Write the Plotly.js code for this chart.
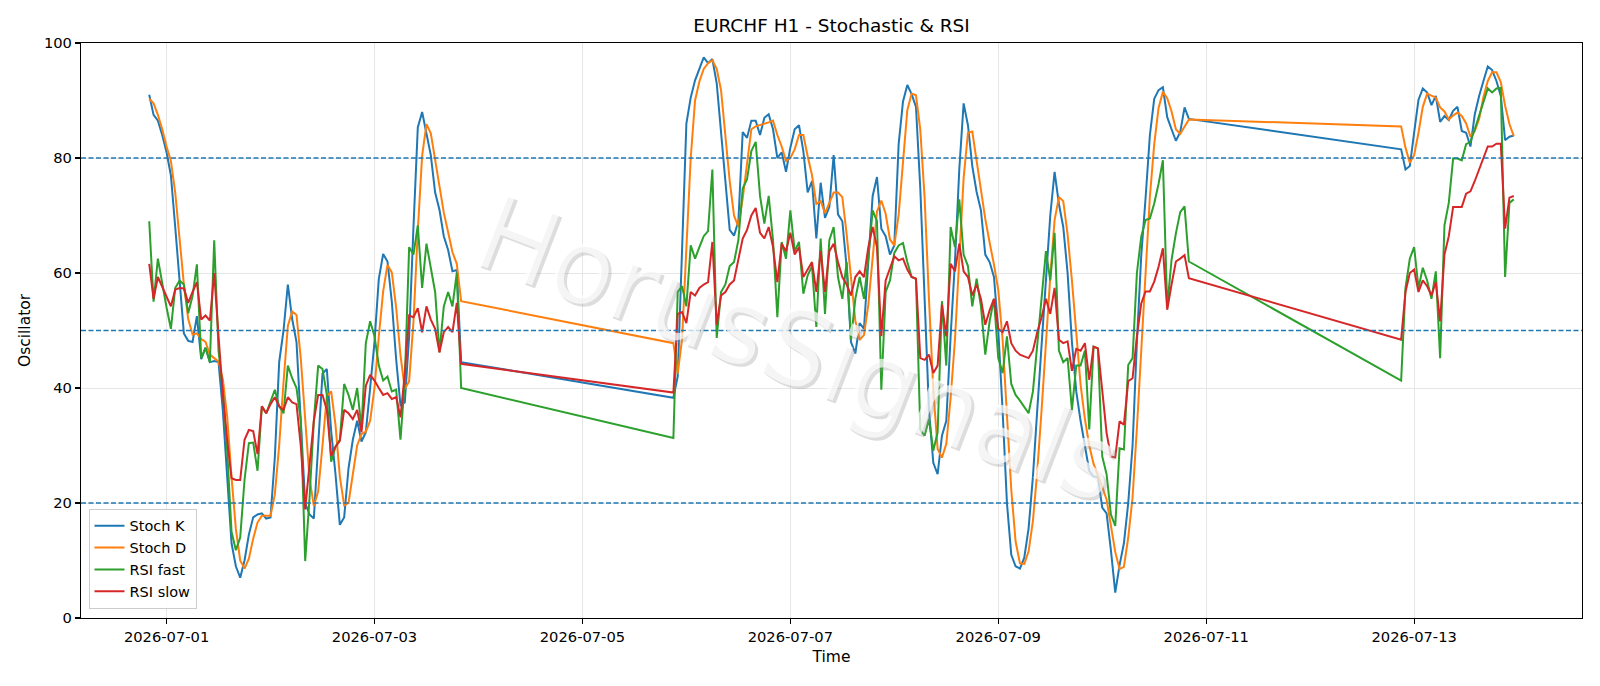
<!DOCTYPE html>
<html>
<head>
<meta charset="utf-8">
<script src="https://cdn.plot.ly/plotly-3.0.1.min.js"></script>
<style>html,body{margin:0;padding:0;background:#fff;}#chart{width:1600px;height:686px;}</style>
</head>
<body>
<div id="chart"></div>
<script>
// Hourly bar segments (weekend gaps between them)
const segStarts = ['2026-06-30T20:00:00Z', '2026-07-05T21:00:00Z', '2026-07-12T21:00:00Z'];
const segCounts = [73, 120, 27];

const tickDates = ['2026-07-01', '2026-07-03', '2026-07-05', '2026-07-07', '2026-07-09', '2026-07-11', '2026-07-13'];

const stochK = [
  // 06-30 20:00 .. 07-03 20:00
  91,87.5,86.5,84,81,77,68,58,49.5,48.2,48,52.5,45,47,44.5,44.7,44.5,36,24,13,9,7,10,14.5,17.5,18,18.2,17.3,17.5,28,
  44.5,50,58,52,48,35,20,18,17.3,30,42.5,43.3,32.5,25,16.2,17.5,26,31,34.3,30.7,32.3,40,48,59,63.3,62,55,45,37,37.5,
  49,68,85.3,88,84.4,80.5,74,71,66.4,64,60.3,60.5,44.5,
  // 07-05 21:00 .. 07-10 20:00
  38.3,42,63,86,90.5,93.5,95.5,97.5,96.5,97.2,93,85,76,67.5,66.5,69,84.5,83.5,86.5,86.5,84,87,87.6,85,
  80,81,77.6,81.8,85,85.7,81.2,74,76,66,75.7,69.6,71.5,80.5,70.2,69,61,48,46,51.3,50.3,62,73.4,76.7,
  67.7,66.4,63.2,64.8,82.4,89.8,92.7,91.1,88.9,74.7,55.5,36.2,27,25,31.7,34.3,49,62,78,89.5,85.7,78.6,74.1,70.9,
  63.2,61.9,59.3,50,36,20,11,9,8.6,10.5,15.6,24.6,36.2,47.8,60,70,77.6,72,68,60,48,39.4,34.3,30,
  25.6,24.6,24.5,19.2,18.2,11.8,4.4,9.2,13,20,30,48,63,73,84,90.3,91.8,92.3,87.1,85,83,84.5,88.8,86.8,
  // 07-12 21:00 .. 07-13 23:00
  81.5,78,78.6,84.4,90.1,92.1,91.4,89.2,90.8,86.3,87.3,86.6,88.2,88.9,84.7,84.4,82,87.6,90.8,93.4,95.9,95.3,93.4,90.8,83.1,83.7,83.9
];

const stochD = [
  90.3,89.5,87.5,85,82,79.5,74,66,58,52,49.3,49.5,48.5,48,45.8,45.2,44.6,41.5,35,24.5,15.5,10,8.6,10.3,13.8,16.6,17.8,17.8,17.8,21.5,
  30,41,50.8,53.3,52.7,45,34.3,24.3,19.5,22,30,38.6,39.4,33.6,24.6,19.6,20,24.8,30,32,32.4,34.3,40,49,56.8,61.4,60.1,54,45.7,39.8,
  41.2,51.5,67.4,80.4,85.9,84.3,79.6,75.2,70.5,67.1,63.6,61.6,55.1,
  47.8,42.5,48.5,64,80,90,93.3,95.5,96.5,97,95.5,91.8,84.5,76,70,68,73,79,85,85.5,85.7,86,86.2,86.5,
  84,82,79.5,80,81.5,84,84,80.3,77,72,72.5,70.4,72.3,74,74,73.2,66.7,59.3,51.7,48.4,49.2,54.5,62,70.7,
  72.6,70.3,65.8,64.8,70.1,79,88.3,91.2,90.9,84.9,73,55.5,39.6,29.4,27.9,30.3,38.3,48.4,63,76.5,84.4,84.6,79.5,74.5,
  69.4,65.3,61.5,57,48.4,35.3,22.3,13.3,9.5,9.4,11.6,16.9,25.5,36.2,48,59.3,69.2,73.2,72.5,66.7,58.7,49.1,40.6,34.6,
  30,26.8,24.9,22.8,20.6,16.4,11.5,8.5,8.9,14,21,33,47,61.3,73.3,82.4,88.7,91.5,90.4,88.1,85,84.2,85.4,86.7,
  85.5,81.8,79.2,80.5,84.4,88.9,91.2,90.9,90.5,88.8,88.1,86.7,87.4,87.9,87.3,86,83.7,84.7,86.8,90.6,93.4,94.9,94.9,93.2,89.1,85.9,83.8
];

const rsiFast = [
  69,55,62.5,58,54,50.3,57.4,58.7,58,53,56,61.5,45.2,47,44.5,65.7,46.5,39.4,29,15,11.8,14,24,30.4,30.5,25.6,36.8,35.6,37.5,39.7,
  36.8,35.6,43.9,41.7,40,34.3,9.9,20.8,34.3,43.9,43.3,38.8,27.2,29.8,31,40.7,38.8,36.2,40,33,47.8,51.6,49,43.9,41.3,42,39.4,39.7,31,41.3,
  64.5,63.2,68.3,57.4,65.1,61,56.7,46.2,54.2,56.7,54.2,60,40,
  31.3,56.7,57.7,54.2,64.8,62.5,64.5,66.4,67.3,78,48.7,56.7,58,61.2,61.9,65.7,74.7,76.3,81.2,82.8,73.4,68.6,73.4,65.7,
  52.3,65.4,62.5,70.9,63.8,65.4,56.4,59.6,61.2,50.6,66,52.9,65.7,68,59.3,55.5,61.9,48.4,55.5,59.3,55.5,62.5,70.9,69,
  39.7,56.7,58.7,63.5,64.8,65.2,61.9,59.3,59,32.7,31.7,34.6,29.1,32.3,55.1,43.9,68,64.5,72.8,63.2,61.2,54.2,59,54.2,
  45.8,51.6,55.5,45.2,42.6,49,40.7,38.8,37.8,36.8,35.6,39.4,47.8,55.5,63.8,58.7,67,46.5,44.5,45.2,36.2,43.9,43.9,46.5,
  32.8,47.2,46.9,28.1,25,18,16,29.5,29.3,44,45.2,60,66.3,69.2,69.5,72.1,75.5,79.6,54,62.3,66.9,70.6,71.6,62,
  41.3,57.4,62.5,64.5,57.4,60.9,58.7,55.5,60.3,45.2,68.3,72.2,79.9,79.9,79.6,82.4,82.8,85,87.3,89.5,92.1,91.4,92.1,92.2,59.3,72.2,72.8
];

const rsiSlow = [
  61.6,55.5,59.3,57.5,56,54.2,57.1,57.4,57.3,54.8,56.7,58.4,51.9,52.6,51.7,60,49,38.8,31,24.3,24,24,31,32.7,32.5,28.5,36.8,35.6,37.2,38.4,
  36.8,36.2,38.4,37.5,37.2,29.8,18.9,26.6,34.3,38.8,38.8,36.2,28.2,29.8,30.8,36.2,35.6,34.6,36.2,32.3,40.4,42.3,41.3,40,38.8,39.1,38.1,38.4,34.9,42.6,
  52.6,52.3,53.9,49.7,54.2,51.9,50.3,46.2,49.7,50.6,49.7,54.8,44.2,
  39.2,52.9,53.2,51.3,56.7,56.1,57.4,58,58.4,65.4,51,56.1,56.7,58,58.7,62.5,66,67.5,70,71.3,67,66,68,64.5,
  58.4,65.1,63.8,67,63.2,64.5,59.3,60.6,61.9,56.7,63.8,56.7,63.8,65.1,61.9,59.3,58,56.1,59.3,60.3,59.3,64.5,68,64.5,
  49,58.7,60.9,62.9,62.2,62.5,60.6,59.3,59,45.2,44.9,45.8,42.6,43.9,54.5,49,61.6,60.3,65.1,60.3,59.3,56.1,58,55.5,
  51,53.5,55.5,50.3,49.7,51.6,47.8,46.5,45.8,45.5,45.2,46.5,49.7,52.3,55.5,52.9,57.4,48.4,47.8,48.1,43,46.8,46.5,47.8,
  41.4,47.2,46.9,39.6,32.2,28.1,27.9,34.2,33.6,41.2,41.7,49,54.7,56.8,56.8,58.5,61.1,64.3,53.6,58,62,62.5,63.1,59.1,
  48.4,56.7,60,60.6,56.7,58.7,57.7,56.1,58.4,51.6,63.2,66.4,71.5,71.5,71.5,73.8,74.2,76,78,80,82,82,82.5,82.5,67.7,73.1,73.4
];

const seriesNames = ['Stoch K', 'Stoch D', 'RSI fast', 'RSI slow'];
const seriesColors = ['#1f77b4', '#ff7f0e', '#2ca02c', '#d62728'];
const refLevels = [20, 50, 80];

function buildTimes() {
  const out = [];
  for (let s = 0; s < segStarts.length; s++) {
    const t0 = Date.parse(segStarts[s]);
    for (let i = 0; i < segCounts[s]; i++) {
      out.push(new Date(t0 + i * 3600000).toISOString().slice(0, 16).replace('T', ' '));
    }
  }
  return out;
}
const times = buildTimes();

const allSeries = [stochK, stochD, rsiFast, rsiSlow];
const traces = allSeries.map((vals, i) => ({
  type: 'scatter', mode: 'lines', name: seriesNames[i],
  x: times, y: vals,
  line: {color: seriesColors[i], width: 2}
}));

const font = 'DejaVu Sans, Arial, sans-serif';

const shapes = refLevels.map(v => ({
  type: 'line', xref: 'paper', x0: 0, x1: 1, yref: 'y', y0: v, y1: v,
  line: {color: '#1f77b4', width: 1.3, dash: '5px,2.5px'}, layer: 'above'
}));

const wmX = 0.478, wmY = 0.468;
const annotations = [
  {xref: 'paper', yref: 'paper', x: wmX, y: wmY, xshift: 3, yshift: -3, text: 'HorusSignals', showarrow: false,
   textangle: 21, font: {family: font, size: 104, color: 'rgba(150,150,150,0.32)'}},
  {xref: 'paper', yref: 'paper', x: wmX, y: wmY, text: 'HorusSignals', showarrow: false,
   textangle: 21, font: {family: font, size: 104, color: 'rgba(255,255,255,0.7)'}}
];

const layout = {
  width: 1600, height: 686,
  paper_bgcolor: '#ffffff', plot_bgcolor: '#ffffff',
  margin: {l: 81, r: 18, t: 43, b: 68},
  font: {family: font, size: 14, color: '#000'},
  title: {text: 'EURCHF H1 - Stochastic & RSI', font: {family: font, size: 18.5, color: '#000'},
          x: 0.5, xref: 'paper', xanchor: 'center', y: 1 - 26 / 686, yref: 'container', yanchor: 'middle'},
  xaxis: {
    type: 'date', range: ['2026-06-30 04:15', '2026-07-14 14:45'],
    tickvals: tickDates, ticktext: tickDates,
    showgrid: true, gridcolor: '#e6e6e6', gridwidth: 1,
    showline: true, linecolor: '#000', linewidth: 1.1, mirror: true,
    ticks: 'outside', ticklen: 5, tickwidth: 1.1, tickcolor: '#000',
    tickfont: {family: font, size: 14.7, color: '#000'},
    zeroline: false,
    title: {text: 'Time', font: {family: font, size: 15.5, color: '#000'}, standoff: 7}
  },
  yaxis: {
    range: [0, 100], tickvals: [0, 20, 40, 60, 80, 100],
    showgrid: true, gridcolor: '#e6e6e6', gridwidth: 1,
    showline: true, linecolor: '#000', linewidth: 1.1, mirror: true,
    ticks: 'outside', ticklen: 5, tickwidth: 1.1, tickcolor: '#000',
    tickfont: {family: font, size: 14.7, color: '#000'},
    zeroline: false,
    title: {text: 'Oscillator', font: {family: font, size: 15.5, color: '#000'}, standoff: 9}
  },
  showlegend: true,
  legend: {x: 0.005, y: 0.016, xanchor: 'left', yanchor: 'bottom',
           bgcolor: 'rgba(255,255,255,0.85)', bordercolor: '#cccccc', borderwidth: 1,
           font: {family: font, size: 14.5, color: '#000'}, tracegroupgap: 0},
  shapes: shapes,
  annotations: annotations
};

Plotly.newPlot('chart', traces, layout, {displayModeBar: false, staticPlot: true});
</script>
</body>
</html>
